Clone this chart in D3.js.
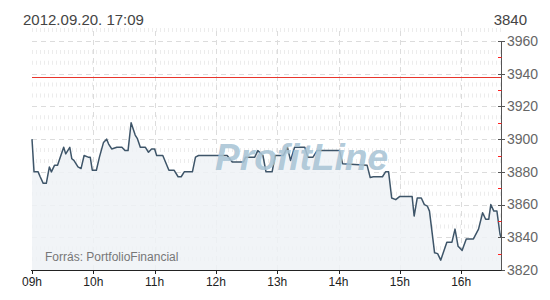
<!DOCTYPE html>
<html>
<head>
<meta charset="utf-8">
<script src="https://cdn.jsdelivr.net/npm/d3@7"></script>
<style>
  html, body { margin: 0; padding: 0; background: #fff; }
  svg { display: block; font-family: "Liberation Sans", Arial, sans-serif; }
</style>
</head>
<body>
<div id="chart"></div>
<script>
// intraday quotes
const times = ["09:00","09:02","09:06","09:08","09:11","09:14","09:17","09:19","09:22","09:25",
  "09:31","09:33","09:37","09:39","09:41","09:45","09:48","09:51","09:55","09:57",
  "09:59","10:03","10:06","10:10","10:13","10:15","10:18","10:23","10:28","10:31",
  "10:34","10:37","10:41","10:43","10:46","10:51","10:54","10:57","11:00","11:02",
  "11:08","11:14","11:19","11:23","11:26","11:29","11:37","11:40","11:43","12:11",
  "12:16","12:27","12:29","12:38","12:41","12:46","12:49","12:55","12:58","13:06",
  "13:10","13:13","13:17","13:27","13:30","13:35","13:39","14:01","14:04","14:28",
  "14:31","14:34","14:43","14:46","14:49","14:52","14:56","15:00","15:12","15:14",
  "15:17","15:21","15:24","15:27","15:29","15:34","15:37","15:40","15:46","15:51",
  "15:54","15:57","16:01","16:05","16:12","16:17","16:21","16:24","16:27","16:29",
  "16:32","16:35","16:38","16:39"]
const values = [3900,3880,3880,3877,3873,3873,3883,3880,3884,3884,
  3895,3891,3895,3888,3887,3883,3882,3890,3889,3889,
  3881,3881,3889,3898,3900,3897,3894,3895,3895,3893,
  3893,3910,3902.5,3900.5,3895,3895,3892,3894,3894,3890,
  3890,3881,3881,3877,3877,3880,3880,3889,3890,3890,
  3886,3886,3889,3889,3893,3890,3880,3880,3890,3890,
  3895,3887,3895,3895,3889,3889,3893,3893,3885,3884,
  3876.5,3877,3877,3880,3880,3864,3863,3865,3865,3853,
  3864,3864,3860,3859,3856,3830.5,3830,3826,3837,3837,
  3845,3834.5,3832,3839,3839,3845,3855,3851,3851,3860,
  3856,3856,3842,3840]
const yTicks = [3820,3840,3860,3880,3900,3920,3940,3960]
const hourTicks = ["09:00","10:00","11:00","12:00","13:00","14:00","15:00","16:00"]
const hourLabels = ["09h","10h","11h","12h","13h","14h","15h","16h"]
const refLevel = 3938
const stamp = "2012.09.20. 17:09"
const lastQuote = "3840"

const W = 550, H = 300
const parse = d3.timeParse("%H:%M")
const data = times.map((t, i) => ({ t: parse(t), v: values[i] }))

const x = d3.scaleTime().domain([parse("09:00"), parse("16:39")]).range([32, 501])
const y = d3.scaleLinear().domain([3820, 3960]).range([270, 41])
const gridTop = 31

const svg = d3.select('#chart').append('svg')
  .attr('width', W).attr('height', H)

// header
svg.append('text').attr('x', 23).attr('y', 25)
  .attr('font-size', 15).attr('fill', '#444').text(stamp)
svg.append('text').attr('x', 527).attr('y', 25).attr('text-anchor', 'end')
  .attr('font-size', 15).attr('fill', '#444').text(lastQuote)

const plot = svg.append('g')

// minor rows (short vertical dashes)
const step = y(yTicks[0]) - y(yTicks[1])
const minorRows = []
yTicks.forEach(v => {
  minorRows.push(y(v) - step / 3, y(v) - 2 * step / 3)
})
minorRows.filter(r => r > gridTop - 1).forEach(r => {
  plot.append('line').attr('x1', x.range()[0]).attr('x2', x.range()[1])
    .attr('y1', r).attr('y2', r)
    .attr('stroke', '#ececec').attr('stroke-width', 4)
    .attr('stroke-dasharray', '1,3')
})

// major grid
plot.selectAll('.hgrid').data(yTicks.slice(1)).join('line')
  .attr('x1', x.range()[0]).attr('x2', x.range()[1])
  .attr('y1', d => Math.round(y(d)) + 0.5).attr('y2', d => Math.round(y(d)) + 0.5)
  .attr('stroke', '#dcdcdc').attr('stroke-dasharray', '5,4')
plot.selectAll('.vgrid').data(hourTicks.slice(1)).join('line')
  .attr('x1', d => Math.round(x(parse(d))) + 0.5).attr('x2', d => Math.round(x(parse(d))) + 0.5)
  .attr('y1', gridTop).attr('y2', 270)
  .attr('stroke', '#dcdcdc').attr('stroke-dasharray', '5,4')

// area under the line
const area = d3.area().x(d => x(d.t)).y0(270).y1(d => y(d.v))
plot.append('path').datum(data).attr('d', area)
  .attr('fill', '#eef2f6').attr('fill-opacity', 0.85)

// watermark
svg.append('text').attr('x', 215).attr('y', 170)
  .attr('font-size', 36).attr('font-weight', 'bold').attr('font-style', 'italic')
  .attr('textLength', 173).attr('lengthAdjust', 'spacingAndGlyphs')
  .attr('fill', '#a9c4d5').attr('fill-opacity', 0.9)
  .text('ProfitLine')

// reference level
plot.append('line').attr('x1', x.range()[0]).attr('x2', x.range()[1])
  .attr('y1', Math.round(y(refLevel)) + 0.5).attr('y2', Math.round(y(refLevel)) + 0.5)
  .attr('stroke', '#e8352c').attr('stroke-width', 1)

// price line
const line = d3.line().x(d => x(d.t)).y(d => y(d.v))
plot.append('path').datum(data).attr('d', line)
  .attr('fill', 'none').attr('stroke', '#3e5569').attr('stroke-width', 1.5)
  .attr('stroke-linejoin', 'round')

// source note
svg.append('text').attr('x', 45).attr('y', 261)
  .attr('font-size', 12).attr('fill', '#777').text('Forrás: PortfolioFinancial')

// right axis
const yAxis = svg.append('g').attr('transform', 'translate(501,0)')
yAxis.append('line').attr('x1', 0.5).attr('x2', 0.5).attr('y1', y(3960)).attr('y2', 270)
  .attr('stroke', '#555')
yAxis.selectAll('.tick').data(yTicks).join('line')
  .attr('x1', -3).attr('x2', 4)
  .attr('y1', d => Math.round(y(d)) + 0.5).attr('y2', d => Math.round(y(d)) + 0.5)
  .attr('stroke', '#555')
yAxis.selectAll('.mtick').data(yTicks.slice(1)).join('line')
  .attr('x1', -3).attr('x2', 0.5)
  .attr('y1', d => Math.round(y(d) + step / 2) + 0.5).attr('y2', d => Math.round(y(d) + step / 2) + 0.5)
  .attr('stroke', '#ff2020')
yAxis.selectAll('text').data(yTicks).join('text')
  .attr('x', 6).attr('y', d => y(d)).attr('dy', '0.35em')
  .attr('font-size', 14).attr('fill', '#666').text(d => d)

// bottom axis
const xAxis = svg.append('g').attr('transform', 'translate(0,270)')
xAxis.append('line').attr('x1', 31).attr('x2', 501.5).attr('y1', 0.5).attr('y2', 0.5)
  .attr('stroke', '#222')
xAxis.selectAll('.tick').data(hourTicks).join('line')
  .attr('x1', d => Math.round(x(parse(d))) + 0.5).attr('x2', d => Math.round(x(parse(d))) + 0.5)
  .attr('y1', 0).attr('y2', 4).attr('stroke', '#222')
xAxis.selectAll('text').data(hourTicks).join('text')
  .attr('x', d => x(parse(d))).attr('y', 16)
  .attr('text-anchor', 'middle').attr('font-size', 12).attr('fill', '#222')
  .text((d, i) => hourLabels[i])
</script>
</body>
</html>
